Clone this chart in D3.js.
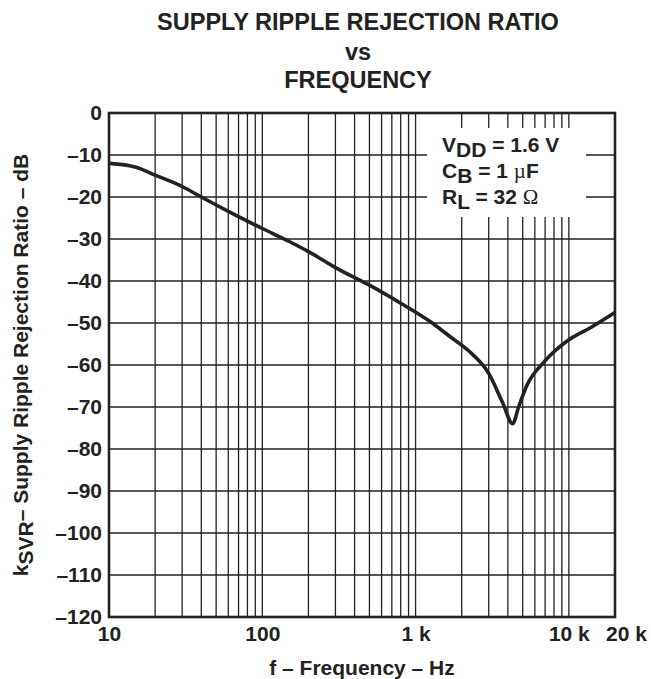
<!DOCTYPE html>
<html>
<head>
<meta charset="utf-8">
<script src="https://cdn.jsdelivr.net/npm/d3@7"></script>
<style>
  body { margin: 0; background: #fff; }
  svg { display: block; font-family: "Liberation Sans", Arial, sans-serif; font-weight: bold; }
</style>
</head>
<body>
<svg id="chart"></svg>
<script>
// data
const freqHz = [10, 15, 20, 30, 40, 60, 100, 150, 200, 300, 500, 800, 1250, 1700, 2200, 3000, 3700, 4300, 4700, 5300, 7000, 10000, 14000, 20000];
const ksvrDb = [-12, -12.9, -14.8, -17.5, -20, -23.4, -27.5, -30.6, -33, -36.8, -41, -45.3, -49.7, -53.4, -56.5, -62, -69, -74, -70, -65, -59, -54, -51, -47.5];

const xTickValues = [10, 100, 1000, 10000, 20000];
const xTickLabels = ['10', '100', '1 k', '10 k', '20 k'];
const yTickValues = [0, -10, -20, -30, -40, -50, -60, -70, -80, -90, -100, -110, -120];

const titleLines = ['SUPPLY RIPPLE REJECTION RATIO', 'vs', 'FREQUENCY'];

const width = 651;
const height = 679;
const margin = { top: 113, right: 36, bottom: 62, left: 109 };

const svg = d3.select('#chart')
  .attr('width', width)
  .attr('height', height);

const x = d3.scaleLog()
  .domain([10, 20000])
  .range([margin.left, width - margin.right]);

const y = d3.scaleLinear()
  .domain([-120, 0])
  .range([height - margin.bottom, margin.top]);

// grid lines: 1..9 per decade, up to 10 k
const gridFreqs = [];
[10, 100, 1000].forEach(dec => {
  for (let m = 1; m < 10; m++) gridFreqs.push(dec * m);
});
gridFreqs.push(10000);

const grid = svg.append('g');

grid.selectAll('line.v')
  .data(gridFreqs)
  .join('line')
  .attr('class', 'v')
  .attr('x1', d => x(d)).attr('x2', d => x(d))
  .attr('y1', y(0)).attr('y2', y(-120))
  .attr('stroke', '#222')
  .attr('stroke-width', 1.3);

grid.selectAll('line.h')
  .data(yTickValues)
  .join('line')
  .attr('class', 'h')
  .attr('x1', x(10)).attr('x2', x(20000))
  .attr('y1', d => y(d)).attr('y2', d => y(d))
  .attr('stroke', '#222')
  .attr('stroke-width', 1.3);

// legend box blanks out the grid
const legend = svg.append('g');
legend.append('rect')
  .attr('x', 427).attr('y', 128)
  .attr('width', 159).attr('height', 89)
  .attr('fill', '#fff');

const legendRows = [
  { main: 'V', sub: 'DD', rest: ' = 1.6 V', sym: '' },
  { main: 'C', sub: 'B', rest: ' = 1 ', sym: '\u00B5', tail: 'F' },
  { main: 'R', sub: 'L', rest: ' = 32 ', sym: '\u03A9', tail: '' }
];

legendRows.forEach((r, i) => {
  const t = legend.append('text')
    .attr('x', 442)
    .attr('y', 152 + i * 26)
    .attr('font-size', 21)
    .attr('fill', '#222');
  t.append('tspan').text(r.main);
  t.append('tspan').attr('dy', 5).text(r.sub);
  t.append('tspan').attr('dy', -5).text(r.rest);
  if (r.sym) {
    t.append('tspan')
      .attr('font-family', '"Liberation Serif", "DejaVu Serif", serif')
      .attr('font-weight', 'normal')
      .text(r.sym);
  }
  if (r.tail) t.append('tspan').text(r.tail);
});

// frame
svg.append('rect')
  .attr('x', x(10)).attr('y', y(0))
  .attr('width', x(20000) - x(10))
  .attr('height', y(-120) - y(0))
  .attr('fill', 'none')
  .attr('stroke', '#222')
  .attr('stroke-width', 2.6);

// curve
const line = d3.line()
  .x((d, i) => x(freqHz[i]))
  .y(d => y(d))
  .curve(d3.curveMonotoneX);

svg.append('path')
  .datum(ksvrDb)
  .attr('fill', 'none')
  .attr('stroke', '#222')
  .attr('stroke-width', 3.6)
  .attr('stroke-linejoin', 'round')
  .attr('d', line);

// axes labels
const xAxis = g => g
  .attr('transform', `translate(0,${y(-120)})`)
  .call(d3.axisBottom(x)
    .tickValues(xTickValues)
    .tickSize(0)
    .tickPadding(9)
    .tickFormat((d, i) => xTickLabels[i]))
  .call(g => g.select('.domain').remove())
  .call(g => g.selectAll('text')
    .attr('font-size', 21)
    .attr('font-family', '"Liberation Sans", Arial, sans-serif')
    .attr('font-weight', 'bold')
    .attr('fill', '#222')
    .attr('dx', (d, i) => i === xTickValues.length - 1 ? 11 : 0));

const yAxis = g => g
  .attr('transform', `translate(${x(10)},0)`)
  .call(d3.axisLeft(y)
    .tickValues(yTickValues)
    .tickSize(0)
    .tickPadding(7)
    .tickFormat(d => d < 0 ? '\u2013' + Math.abs(d) : String(d)))
  .call(g => g.select('.domain').remove())
  .call(g => g.selectAll('text')
    .attr('font-size', 21)
    .attr('font-family', '"Liberation Sans", Arial, sans-serif')
    .attr('font-weight', 'bold')
    .attr('fill', '#222'));

svg.append('g').call(xAxis);
svg.append('g').call(yAxis);

// titles
svg.append('g')
  .selectAll('text')
  .data(titleLines)
  .join('text')
  .attr('x', 358)
  .attr('y', (d, i) => [30, 60, 88][i])
  .attr('text-anchor', 'middle')
  .attr('font-size', 23.5)
  .attr('fill', '#222')
  .text(d => d);

svg.append('text')
  .attr('x', (x(10) + x(20000)) / 2)
  .attr('y', 675)
  .attr('text-anchor', 'middle')
  .attr('font-size', 21)
  .attr('fill', '#222')
  .text('f \u2013 Frequency \u2013 Hz');

const yLabel = svg.append('text')
  .attr('transform', `translate(28,${(y(0) + y(-120)) / 2}) rotate(-90)`)
  .attr('text-anchor', 'middle')
  .attr('font-size', 21)
  .attr('fill', '#222');
yLabel.append('tspan').text('k');
yLabel.append('tspan').attr('dy', 5).text('SVR');
yLabel.append('tspan').attr('dy', -5).text('\u2013 Supply Ripple Rejection Ratio \u2013 dB');
</script>
</body>
</html>
